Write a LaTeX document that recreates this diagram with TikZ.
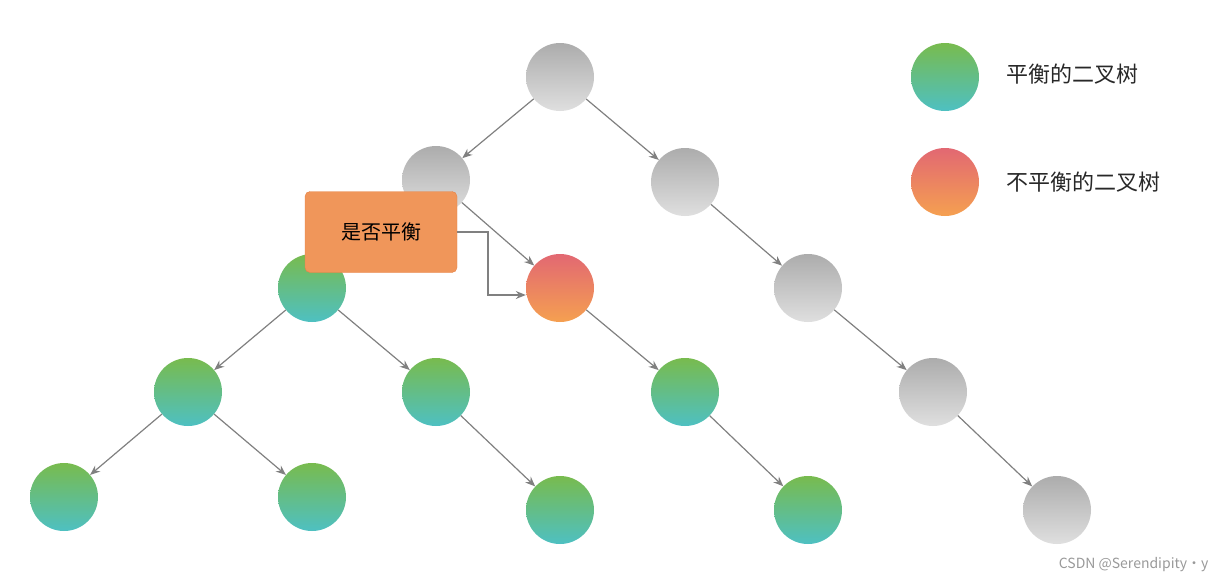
\documentclass[tikz,border=0pt]{standalone}
\usepackage{fontspec}
\setmainfont{Noto Sans CJK SC}
\usetikzlibrary{arrows.meta}
\begin{document}
\begin{tikzpicture}[x=1pt,y=-1pt,
  nd/.style={circle,minimum size=68pt,inner sep=0pt},
  gr/.style={nd,top color=gray!65,bottom color=gray!25},
  gn/.style={nd,top color={rgb,255:red,120;green,187;blue,78},bottom color={rgb,255:red,78;green,192;blue,194}},
  rd/.style={nd,top color={rgb,255:red,226;green,104;blue,114},bottom color={rgb,255:red,245;green,160;blue,80}},
  ed/.style={draw=gray,line width=1.2pt,-{Stealth[length=10pt,width=8pt]}}]
\useasboundingbox (0,0) rectangle (1226,584);
\node[gr] (r) at (560,77) {};
\node[gr] (a) at (436,180) {};
\node[gr] (b) at (685,182) {};
\node[gn] (c) at (312,288) {};
\node[rd] (d) at (560,288) {};
\node[gr] (e) at (808,288) {};
\node[gn] (f) at (188,392) {};
\node[gn] (g) at (436,392) {};
\node[gn] (h) at (685,392) {};
\node[gr] (i) at (933,392) {};
\node[gn] (j) at (64,497) {};
\node[gn] (k) at (312,497) {};
\node[gn] (l) at (560,510) {};
\node[gn] (m) at (808,510) {};
\node[gr] (n) at (1057,510) {};
\foreach \p/\q in {r/a,r/b,a/d,b/e,c/f,c/g,d/h,e/i,f/j,f/k,g/l,h/m,i/n,a/c}
  \draw[ed] (\p) -- (\q);
\node[draw={rgb,255:red,230;green,130;blue,70},fill={rgb,255:red,240;green,150;blue,90},rounded corners=5pt,minimum width=152pt,minimum height=81pt,font=\fontsize{20}{24}\selectfont] (box) at (381,232) {是否平衡};
\draw[ed] (box.east) -- (488,232) -- (488,295) -- (d.west|-488,295);
\node[gn] (lg) at (945,77) {};
\node[rd] (lr) at (945,182) {};
\node[anchor=west,font=\fontsize{22}{26}\selectfont,text={rgb,255:red,40;green,40;blue,40}] (t1) at (1003,74) {平衡的二叉树};
\node[anchor=west,font=\fontsize{22}{26}\selectfont,text={rgb,255:red,40;green,40;blue,40}] (t2) at (1003,182) {不平衡的二叉树};
\node[anchor=east,font=\fontsize{14}{16}\selectfont,text=gray!80] (wm) at (1212,565) {CSDN @Serendipity·y};
\end{tikzpicture}
\end{document}
